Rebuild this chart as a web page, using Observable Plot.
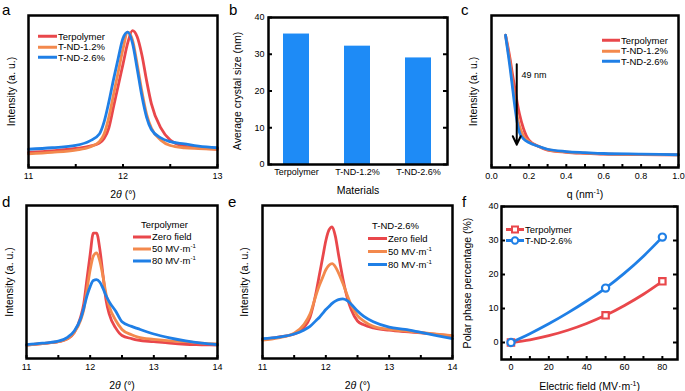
<!DOCTYPE html>
<html><head><meta charset="utf-8">
<script src="https://cdn.jsdelivr.net/npm/d3@7"></script>
<script src="https://cdn.jsdelivr.net/npm/@observablehq/plot@0.6"></script>
<style>
body{margin:0;background:#fff;}
#fig{position:relative;width:685px;height:391px;overflow:hidden;font-family:"Liberation Sans",Arial,sans-serif;background:#fff;color:#000}
.p{position:absolute}
.p svg{overflow:visible}
.letter{position:absolute;font-size:15px;line-height:15px}
.leg{position:absolute;font-size:9.5px;line-height:1;white-space:nowrap}
.leg .row{position:absolute;display:flex;align-items:center}
.leg sup{font-size:6px;vertical-align:4px;line-height:0}
.leg svg{display:block}
</style></head>
<body><div id="fig"></div>
<script>
// ---------- data ----------
const sampleSeries = ["Terpolymer", "T-ND-1.2%", "T-ND-2.6%"];
const fieldSeries = ["Zero field", "50 MV·m⁻¹", "80 MV·m⁻¹"];
const seriesColors = ["#E9474B", "#F3894D", "#1F7FE6"];
const barColor = "#1E8BF6";

// (a) XRD, 2θ
const aX     = [11, 11.25, 11.5, 11.65, 11.75, 11.8, 11.85, 11.9, 11.95, 12.0, 12.05, 12.1, 12.15, 12.2, 12.25, 12.3, 12.4, 12.5, 12.65, 12.8, 13];
const aTerp  = [10, 11, 12.5, 14, 16, 19, 26, 40, 54, 68, 82, 90, 86, 74, 57, 42, 26, 18, 14, 13, 12];
const aND12  = [9, 10, 11.5, 13.5, 17, 22, 33, 48, 63, 78, 89, 84, 68, 50, 35, 26, 18, 14.5, 13, 12.5, 12];
const aND26  = [12, 13, 14.5, 17.5, 22, 30, 43, 58, 72, 85, 89, 82, 65, 47, 33, 25, 19.5, 17, 15.5, 14, 13];
const aTicks = [11, 12, 13];
const aMinor = [11, 11.5, 12, 12.5, 13];

// (b) crystal size
const bCats  = ["Terpolymer", "T-ND-1.2%", "T-ND-2.6%"];
const bSizes = [35.5, 32.2, 29.0];
const bTicks = [0, 10, 20, 30, 40];

// (c) SAXS
const cQ     = [0.075, 0.09, 0.1, 0.11, 0.125, 0.14, 0.15, 0.17, 0.2, 0.25, 0.3, 0.4, 0.5, 0.6, 0.8, 1.0];
const cTerp  = [87, 78, 71, 63, 52, 41, 35, 26, 18, 14, 11.5, 10, 9.3, 8.8, 8.5, 8.3];
const cND12  = [87, 76, 68, 58, 44, 32, 27, 21, 17, 14, 11.8, 10.2, 9.5, 9, 8.6, 8.3];
const cND26  = [87, 74, 65, 55, 40, 28, 23, 19, 16.5, 14, 12, 10.5, 9.8, 9.2, 8.8, 8.4];
const cTicks = [0, 0.2, 0.4, 0.6, 0.8, 1.0];
const cMinor = [0, 0.1, 0.2, 0.3, 0.4, 0.5, 0.6, 0.7, 0.8, 0.9, 1.0];
const cArrow = [{q: 0.135, from: 68, to: 15}];
const cNote  = [{q: 0.16, y: 61, text: "49 nm"}];

// (d) terpolymer under field
const dX     = [11, 11.25, 11.5, 11.65, 11.75, 11.85, 11.9, 11.95, 12.0, 12.05, 12.1, 12.15, 12.2, 12.25, 12.3, 12.4, 12.5, 12.65, 12.75, 13, 13.25, 13.5, 13.75, 14];
const dZero  = [8.7, 9.8, 11, 13, 17, 27, 36, 52, 68, 82, 82, 72, 55, 38, 29, 20, 15, 13, 12, 11, 10, 9.3, 9, 8.7];
const d50    = [8.7, 9.8, 11, 13, 17, 25, 32, 45, 58, 67, 69, 64, 54, 42, 34, 25, 19, 15.5, 14, 12.5, 11.5, 11, 10, 9.5];
const d80    = [9, 10, 11.3, 14, 18, 26, 33, 41, 47, 51, 51.5, 50, 46, 41, 37, 31, 24, 21, 19.5, 16, 13.5, 11.5, 10, 9];
const dTicks = [11, 12, 13, 14];
const dMinor = [11, 11.5, 12, 12.5, 13, 13.5, 14];

// (e) T-ND-2.6% under field
const eX     = [11, 11.25, 11.5, 11.65, 11.75, 11.85, 11.9, 11.95, 12.0, 12.05, 12.1, 12.15, 12.2, 12.27, 12.35, 12.4, 12.5, 12.6, 12.75, 13, 13.25, 13.5, 13.75, 14];
const eZero  = [12.4, 14, 16, 20, 27, 44, 55, 66, 77, 84, 86, 80, 68, 52, 38, 32, 24.5, 22, 20, 18.5, 17.5, 16.7, 15.8, 14.8];
const e50    = [12, 13.5, 16.5, 22, 29, 42, 48, 53, 58, 61, 62, 60, 56, 49, 40, 35, 28, 24.5, 21, 19, 18, 17, 16, 15];
const e80    = [13, 14, 16, 18.5, 21, 25, 27, 29.5, 32, 34, 36, 37.5, 38.5, 39, 37.5, 35.5, 31, 27.5, 24, 20.5, 19, 17, 15, 13];

const fField = [0, 50, 80];
const fTerp  = [0, 8, 18];
const fND26  = [0, 16, 31];
const fCurveField = [0, 10, 20, 30, 40, 50, 60, 70, 80];
const fTerpCurve  = [0, 0.8, 2, 3.6, 5.6, 8, 10.9, 14.2, 18];
const fND26Curve  = [0, 2.6, 5.5, 8.7, 12.2, 16, 20.4, 25.4, 31];
const fSeries = ["Terpolymer", "T-ND-2.6%"];
const fColors = ["#E9474B", "#1F7FE6"];
const fXTicks = [0, 20, 40, 60, 80];
const fXMinor = [0, 10, 20, 30, 40, 50, 60, 70, 80];
const fYTicks = [0, 10, 20, 30, 40];

// ---------- helpers ----------
const FONT = '"Liberation Sans", Arial, sans-serif';
const fig = document.getElementById("fig");
const long = (xs, names, cols) => names.flatMap((s, i) => xs.map((x, j) => ({series: s, x, y: cols[i][j]})));
const intFmt = d3.format("d");

function place(svg, left, top) {
  const d = document.createElement("div");
  d.className = "p"; d.style.left = left + "px"; d.style.top = top + "px";
  d.appendChild(svg); fig.appendChild(d);
}
function rich(svg, plain, parts) {
  svg.querySelectorAll("text").forEach(t => {
    if (t.textContent === plain) {
      while (t.firstChild) t.removeChild(t.firstChild);
      parts.forEach(p => {
        const s = document.createElementNS("http://www.w3.org/2000/svg", "tspan");
        s.textContent = p.t;
        if (p.i) s.setAttribute("font-style", "italic");
        if (p.sup) { s.setAttribute("font-size", "7"); s.setAttribute("dy", "-4"); }
        if (p.down) s.setAttribute("dy", "4");
        t.appendChild(s);
      });
    }
  });
}
function letter(ch, left, top) {
  const d = document.createElement("div");
  d.className = "letter"; d.textContent = ch;
  d.style.left = left + "px"; d.style.top = top + "px";
  fig.appendChild(d);
}
function fmtSup(s) { return s.replace("⁻¹", "<sup>-1</sup>"); }
function legend({left, top, rowH, sw, names, colors, title, titleLeft, markers}) {
  const d = document.createElement("div");
  d.className = "leg"; d.style.left = left + "px"; d.style.top = top + "px";
  let off = 0;
  if (title) {
    const t = document.createElement("div");
    t.className = "row"; t.style.top = "0px"; t.style.left = titleLeft + "px"; t.style.height = rowH + "px";
    t.textContent = title; d.appendChild(t); off = 1;
  }
  names.forEach((n, i) => {
    const r = document.createElement("div");
    r.className = "row"; r.style.top = ((i + off) * rowH) + "px"; r.style.left = "0px"; r.style.height = rowH + "px";
    let mk = "";
    if (markers && markers[i] === "square") mk = `<rect x="${sw/2-3}" y="${rowH/2-3}" width="6" height="6" fill="#fff" stroke="${colors[i]}" stroke-width="2"/>`;
    if (markers && markers[i] === "circle") mk = `<circle cx="${sw/2}" cy="${rowH/2}" r="3.2" fill="#fff" stroke="${colors[i]}" stroke-width="2"/>`;
    r.innerHTML = `<svg width="${sw}" height="${rowH}"><line x1="0" x2="${sw}" y1="${rowH/2}" y2="${rowH/2}" stroke="${colors[i]}" stroke-width="3"/>${mk}</svg><span style="margin-left:1px">${fmtSup(n)}</span>`;
    d.appendChild(r);
  });
  fig.appendChild(d);
}
const baseStyle = {fontFamily: FONT, fontSize: "9px", color: "#000", background: "transparent", overflow: "visible"};
const frame = () => Plot.frame({stroke: "#000", strokeWidth: 2.5});
const titleAxisX = (label, off) => Plot.axisX({ticks: [], label, labelAnchor: "center", labelOffset: off, labelArrow: "none", fontSize: 10.5});
const titleAxisY = (label, off) => Plot.axisY({ticks: [], label, labelAnchor: "center", labelOffset: off, labelArrow: "none", fontSize: 10.5});

// ---------- (a) ----------
{
  const H = 200, mt = 15, mb = 33, fh = H - mt - mb;
  const svg = Plot.plot({
    width: 228, height: H, marginLeft: 28, marginRight: 11, marginTop: mt, marginBottom: mb,
    style: baseStyle,
    x: {domain: [11, 13]}, y: {domain: [0, 100]},
    color: {domain: sampleSeries, range: seriesColors},
    marks: [
      Plot.lineY(long(aX, sampleSeries, [aTerp, aND12, aND26]), {x: "x", y: "y", z: "series", stroke: "series", curve: "monotone-x", strokeWidth: 2.8}),
      Plot.tickX(aMinor, {x: d => d, insetTop: fh - 3, strokeWidth: 2}),
      Plot.axisX({ticks: aTicks, tickFormat: intFmt, tickSize: 0, tickPadding: 5, label: null, fontSize: 9}),
      titleAxisX("2θ (°)", 30),
      titleAxisY("Intensity (a. u.)", 21),
      frame()
    ]
  });
  rich(svg, "2θ (°)", [{t: "2"}, {t: "θ", i: true}, {t: " (°)"}]);
  place(svg, 0, 0);
  legend({left: 38, top: 31, rowH: 10.5, sw: 19, names: sampleSeries, colors: seriesColors});
}

// ---------- (b) ----------
{
  const W = 230, ml = 43, mr = 8, fw = W - ml - mr;
  const svg = Plot.plot({
    width: W, height: 200, marginLeft: ml, marginRight: mr, marginTop: 17, marginBottom: 36,
    style: baseStyle,
    x: {domain: bCats, paddingInner: 0.57, paddingOuter: 0.25},
    y: {domain: [0, 40]},
    marks: [
      Plot.barY(bCats.map((c, i) => ({c, v: bSizes[i]})), {x: "c", y: "v", fill: barColor}),
      Plot.tickY(bTicks, {y: d => d, insetRight: fw - 4, strokeWidth: 2}),
      Plot.tickY(bTicks, {y: d => d, insetLeft: fw - 4, strokeWidth: 2}),
      Plot.axisY({ticks: bTicks, tickSize: 0, tickPadding: 4, label: null, fontSize: 9}),
      Plot.axisX({tickSize: 0, tickPadding: 4, label: null, fontSize: 9}),
      titleAxisX("Materials", 29),
      titleAxisY("Average crystal size (nm)", 35),
      frame()
    ]
  });
  place(svg, 225, 0);
}

// ---------- (c) ----------
{
  const H = 200, mt = 15, mb = 33, fh = H - mt - mb;
  const svg = Plot.plot({
    width: 230, height: H, marginLeft: 36, marginRight: 7, marginTop: mt, marginBottom: mb,
    style: baseStyle,
    x: {domain: [0, 1]}, y: {domain: [0, 100]},
    color: {domain: sampleSeries, range: seriesColors},
    marks: [
      Plot.lineY(long(cQ, sampleSeries, [cTerp, cND12, cND26]), {x: "x", y: "y", z: "series", stroke: "series", curve: "monotone-x", strokeWidth: 2.8}),
      Plot.arrow(cArrow, {x1: "q", x2: "q", y1: "from", y2: "to", stroke: "#000", strokeWidth: 2, headLength: 7, headAngle: 50}),
      Plot.text(cNote, {x: "q", y: "y", text: "text", textAnchor: "start", fontSize: 9}),
      Plot.tickX(cMinor, {x: d => d, insetTop: fh - 3, strokeWidth: 2}),
      Plot.axisX({ticks: cTicks, tickFormat: d3.format(".1f"), tickSize: 0, tickPadding: 5, label: null, fontSize: 9}),
      titleAxisX("q (nm-1)", 30),
      titleAxisY("Intensity (a. u.)", 22),
      frame()
    ]
  });
  rich(svg, "q (nm-1)", [{t: "q (nm"}, {t: "-1", sup: true}, {t: ")", down: true}]);
  place(svg, 455, 0);
  legend({left: 602, top: 35, rowH: 10.5, sw: 18, names: sampleSeries, colors: seriesColors});
}

// ---------- (d) ----------
{
  const H = 201, mt = 15, mb = 33, fh = H - mt - mb;
  const svg = Plot.plot({
    width: 228, height: H, marginLeft: 26, marginRight: 11, marginTop: mt, marginBottom: mb,
    style: baseStyle,
    x: {domain: [11, 14]}, y: {domain: [0, 100]},
    color: {domain: fieldSeries, range: seriesColors},
    marks: [
      Plot.lineY(long(dX, fieldSeries, [dZero, d50, d80]), {x: "x", y: "y", z: "series", stroke: "series", curve: "monotone-x", strokeWidth: 2.8}),
      Plot.tickX(dMinor, {x: d => d, insetTop: fh - 3, strokeWidth: 2}),
      Plot.axisX({ticks: dTicks, tickFormat: intFmt, tickSize: 0, tickPadding: 5, label: null, fontSize: 9}),
      titleAxisX("2θ (°)", 30),
      titleAxisY("Intensity (a. u.)", 21),
      frame()
    ]
  });
  rich(svg, "2θ (°)", [{t: "2"}, {t: "θ", i: true}, {t: " (°)"}]);
  place(svg, 0, 190);
  legend({left: 133, top: 219, rowH: 12, sw: 18, names: fieldSeries, colors: seriesColors, title: "Terpolymer", titleLeft: 8});
}

// ---------- (e) ----------
{
  const H = 201, mt = 15, mb = 33, fh = H - mt - mb;
  const svg = Plot.plot({
    width: 230, height: H, marginLeft: 37, marginRight: 3, marginTop: mt, marginBottom: mb,
    style: baseStyle,
    x: {domain: [11, 14]}, y: {domain: [0, 100]},
    color: {domain: fieldSeries, range: seriesColors},
    marks: [
      Plot.lineY(long(eX, fieldSeries, [eZero, e50, e80]), {x: "x", y: "y", z: "series", stroke: "series", curve: "monotone-x", strokeWidth: 2.8}),
      Plot.tickX(dMinor, {x: d => d, insetTop: fh - 3, strokeWidth: 2}),
      Plot.axisX({ticks: dTicks, tickFormat: intFmt, tickSize: 0, tickPadding: 5, label: null, fontSize: 9}),
      titleAxisX("2θ (°)", 30),
      titleAxisY("Intensity (a. u.)", 22),
      frame()
    ]
  });
  rich(svg, "2θ (°)", [{t: "2"}, {t: "θ", i: true}, {t: " (°)"}]);
  place(svg, 225, 190);
  legend({left: 368, top: 219, rowH: 13, sw: 19, names: fieldSeries, colors: seriesColors, title: "T-ND-2.6%", titleLeft: 4});
}

// ---------- (f) ----------
{
  const W = 230, H = 201, ml = 46, mr = 8, mt = 16, mb = 32, fw = W - ml - mr, fh = H - mt - mb;
  const fPoints = fSeries.flatMap((s, i) => fField.map((x, j) => ({series: s, x, y: [fTerp, fND26][i][j]})));
  const fCurves = long(fCurveField, fSeries, [fTerpCurve, fND26Curve]);
  const svg = Plot.plot({
    width: W, height: H, marginLeft: ml, marginRight: mr, marginTop: mt, marginBottom: mb,
    style: baseStyle,
    x: {domain: [-5, 88]}, y: {domain: [-5, 40]},
    color: {domain: fSeries, range: fColors},
    symbol: {domain: fSeries, range: ["square", "circle"]},
    marks: [
      Plot.line(fCurves, {x: "x", y: "y", z: "series", stroke: "series", curve: "monotone-x", strokeWidth: 2.8}),
      Plot.dot(fPoints, {x: "x", y: "y", stroke: "series", symbol: "series", fill: "#fff", r: 3.6, strokeWidth: 2.2}),
      Plot.tickX(fXMinor, {x: d => d, insetTop: fh - 3, strokeWidth: 2}),
      Plot.tickY(fYTicks, {y: d => d, insetLeft: fw - 4, strokeWidth: 2}),
      Plot.tickY(fYTicks, {y: d => d, insetRight: fw - 4, strokeWidth: 2}),
      Plot.axisX({ticks: fXTicks, tickSize: 0, tickPadding: 4, label: null, fontSize: 9}),
      Plot.axisY({ticks: fYTicks, tickSize: 0, tickPadding: 3, label: null, fontSize: 9}),
      titleAxisX("Electric field (MV·m-1)", 30),
      titleAxisY("Polar phase percentage (%)", 38),
      frame()
    ]
  });
  rich(svg, "Electric field (MV·m-1)", [{t: "Electric field (MV·m"}, {t: "-1", sup: true}, {t: ")", down: true}]);
  place(svg, 455, 190);
  legend({left: 506, top: 224, rowH: 11, sw: 18, names: fSeries, colors: fColors, markers: ["square", "circle"]});
}

letter("a", 2, 2);
letter("b", 229, 2);
letter("c", 461, 2);
letter("d", 2, 194);
letter("e", 228, 194);
letter("f", 462, 194);
</script></body></html>
